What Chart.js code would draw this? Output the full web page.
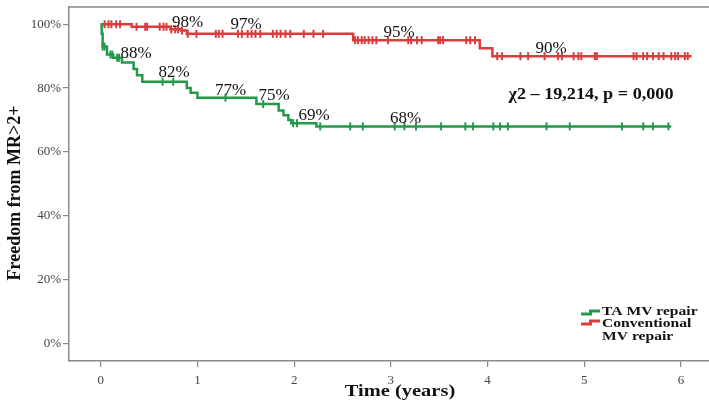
<!DOCTYPE html>
<html>
<head>
<meta charset="utf-8">
<title>Freedom from MR&gt;2+</title>
<script src="https://cdn.jsdelivr.net/npm/chart.js@4"></script>
<style>
  body { margin: 0; background: #fff; }
  #wrap { width: 709px; height: 403px; }
</style>
</head>
<body>
<div id="wrap"><canvas id="kmChart" width="709" height="403"></canvas></div>
<script>
// Kaplan-Meier steps: time (years) and freedom from MR>2+ (%)
const taTimes = [0, 0.01, 0.02, 0.065, 0.13, 0.22, 0.34, 0.375, 0.43, 0.89, 0.93, 1.00, 1.61, 1.84, 1.89, 1.94, 1.97, 2.23, 5.90];
const taSurv  = [100, 97, 93, 90.5, 89.5, 88, 86, 84, 82, 80, 78.5, 77, 75, 73, 71.5, 70, 69, 68, 68];
const taCensored = [0.02, 0.04, 0.10, 0.12, 0.17, 0.19, 0.64, 0.75, 1.29, 1.68, 1.99, 2.03, 2.27, 2.58, 2.71,
  3.04, 3.14, 3.26, 3.52, 3.77, 3.85, 4.06, 4.13, 4.21, 4.61, 4.85, 5.39, 5.61, 5.71, 5.87];

const convTimes = [0, 0.32, 0.72, 0.83, 0.89, 2.61, 3.92, 4.05, 6.11];
const convSurv  = [100, 99.2, 98.4, 98, 97, 95, 92.5, 90, 90];
const convCensored = [0.04, 0.08, 0.11, 0.16, 0.20, 0.37, 0.46, 0.48, 0.61, 0.65, 0.68, 0.73, 0.77, 0.80, 0.84,
  0.90, 0.99, 1.19, 1.22, 1.26, 1.42, 1.46, 1.52, 1.56, 1.60, 1.65, 1.78, 1.82, 1.86, 1.91, 1.96, 2.10, 2.20, 2.30,
  2.63, 2.66, 2.70, 2.73, 2.77, 2.81, 2.85, 2.97, 3.18, 3.21, 3.27, 3.32, 3.49, 3.51, 3.54, 3.78, 3.82, 3.87,
  4.10, 4.15, 4.34, 4.42, 4.59, 4.73, 4.77, 4.89, 4.94, 4.97, 5.11, 5.13, 5.51, 5.54, 5.61, 5.65, 5.71, 5.77,
  5.82, 5.90, 5.94, 5.97, 6.04, 6.07];

// percentages printed along each curve
const convMarked = [98, 97, 95, 90];
const taMarked = [88, 82, 77, 75, 69, 68];

const xTicks = [0, 1, 2, 3, 4, 5, 6];
const yTicks = [0, 20, 40, 60, 80, 100];
const statText = "\u03c72 \u2013 19,214, p = 0,000";

const GREEN = "#24994a";
const RED = "#dc3b3b";
const AXIS = "#8a8a8a";
const SERIF = '"Liberation Serif", "Times New Roman", serif';

Chart.defaults.font.family = SERIF;

// survival value in effect at time t (step function)
function survAt(times, surv, t) {
  let s = surv[0];
  for (let i = 0; i < times.length; i++) {
    if (times[i] <= t) s = surv[i];
  }
  return s;
}

function stepPoints(times, surv) {
  return times.map((t, i) => ({ x: t, y: surv[i] }));
}

function censorPoints(marks, times, surv) {
  return marks.map(t => ({ x: t, y: survAt(times, surv, t) }));
}

// text drawn a bit wider than the font's natural width
function wideText(ctx, text, x, y, sx) {
  ctx.save();
  ctx.translate(x, y);
  ctx.scale(sx, 1);
  ctx.fillText(text, 0, 0);
  ctx.restore();
}

// where the percentages sit (time, % at text baseline), same order as the marked values
const labelSpots = [
  [0.898, 99.2], [1.503, 98.5], [3.085, 96.1], [4.657, 90.9],
  [0.365, 89.3], [0.758, 83.6], [1.342, 77.8], [1.792, 76.3], [2.206, 70.0], [3.152, 69.0]
];

const extras = {
  id: "extras",
  afterDraw(chart) {
    const { ctx, chartArea, scales: { x, y } } = chart;
    ctx.save();

    // top frame line
    ctx.strokeStyle = AXIS;
    ctx.lineWidth = 1.5;
    ctx.beginPath();
    ctx.moveTo(chartArea.left, chartArea.top);
    ctx.lineTo(chartArea.right, chartArea.top);
    ctx.stroke();

    // percentages on the curves
    ctx.fillStyle = "#111";
    ctx.font = "17px " + SERIF;
    ctx.textAlign = "center";
    ctx.textBaseline = "alphabetic";
    [...convMarked, ...taMarked].forEach((v, i) => {
      const [t, p] = labelSpots[i];
      ctx.fillText(v + "%", x.getPixelForValue(t), y.getPixelForValue(p));
    });

    // log-rank result
    ctx.font = "bold 16.5px " + SERIF;
    wideText(ctx, statText, 591, 98.5, 1.1);

    // axis titles
    ctx.font = "bold 16.5px " + SERIF;
    wideText(ctx, "Time (years)", 400, 395.5, 1.24);
    ctx.save();
    ctx.translate(15, 193);
    ctx.rotate(-Math.PI / 2);
    ctx.textBaseline = "middle";
    ctx.font = "bold 18px " + SERIF;
    ctx.fillText("Freedom from MR>2+", 0, 0);
    ctx.restore();

    // legend with step-shaped keys
    const keys = [
      { color: GREEN, lines: ["TA MV repair"], base: 314.5, low: 314, high: 311 },
      { color: RED, lines: ["Conventional", "MV repair"], base: 327, low: 324, high: 321 }
    ];
    ctx.font = "bold 13px " + SERIF;
    ctx.textAlign = "left";
    keys.forEach(k => {
      ctx.strokeStyle = k.color;
      ctx.lineWidth = 3;
      ctx.beginPath();
      ctx.moveTo(581, k.low);
      ctx.lineTo(590.5, k.low);
      ctx.lineTo(590.5, k.high);
      ctx.lineTo(600, k.high);
      ctx.stroke();
      k.lines.forEach((line, j) => wideText(ctx, line, 602, k.base + j * 13, 1.2));
    });

    ctx.restore();
  }
};

const ctx = document.getElementById("kmChart").getContext("2d");

new Chart(ctx, {
  type: "line",
  data: {
    datasets: [
      {
        label: "TA MV repair",
        data: stepPoints(taTimes, taSurv),
        borderColor: GREEN,
        borderWidth: 2.5,
        stepped: true,
        pointRadius: 0,
        fill: false
      },
      {
        label: "Conventional MV repair",
        data: stepPoints(convTimes, convSurv),
        borderColor: RED,
        borderWidth: 2.5,
        stepped: true,
        pointRadius: 0,
        fill: false
      },
      {
        label: "TA censored",
        data: censorPoints(taCensored, taTimes, taSurv),
        showLine: false,
        pointStyle: "line",
        rotation: 90,
        pointRadius: 4,
        borderColor: GREEN,
        pointBorderWidth: 2
      },
      {
        label: "Conventional censored",
        data: censorPoints(convCensored, convTimes, convSurv),
        showLine: false,
        pointStyle: "line",
        rotation: 90,
        pointRadius: 4,
        borderColor: RED,
        pointBorderWidth: 2
      }
    ]
  },
  options: {
    responsive: false,
    animation: false,
    events: [],
    layout: { autoPadding: false, padding: { top: 7, right: 0, left: 0, bottom: 0 } },
    plugins: {
      legend: { display: false },
      tooltip: { enabled: false }
    },
    scales: {
      x: {
        type: "linear",
        min: -0.328,
        max: 6.29,
        afterBuildTicks: s => { s.ticks = xTicks.map(v => ({ value: v })); },
        afterFit: s => { s.height = 42; s.paddingLeft = 0; s.paddingRight = 0; },
        ticks: { color: "#444", font: { size: 13 }, padding: 6 },
        grid: { drawOnChartArea: false, tickLength: 6, color: AXIS, lineWidth: 1.2 },
        border: { color: AXIS, width: 1.5 }
      },
      y: {
        min: -5.5,
        max: 105.4,
        afterBuildTicks: s => { s.ticks = yTicks.map(v => ({ value: v })); },
        afterFit: s => { s.width = 69; s.paddingTop = 0; s.paddingBottom = 0; },
        ticks: { color: "#444", font: { size: 13 }, padding: 2, callback: v => v + "%" },
        grid: { drawOnChartArea: false, tickLength: 6, color: AXIS, lineWidth: 1.2 },
        border: { color: AXIS, width: 1.5 }
      }
    }
  },
  plugins: [extras]
});
</script>
</body>
</html>
